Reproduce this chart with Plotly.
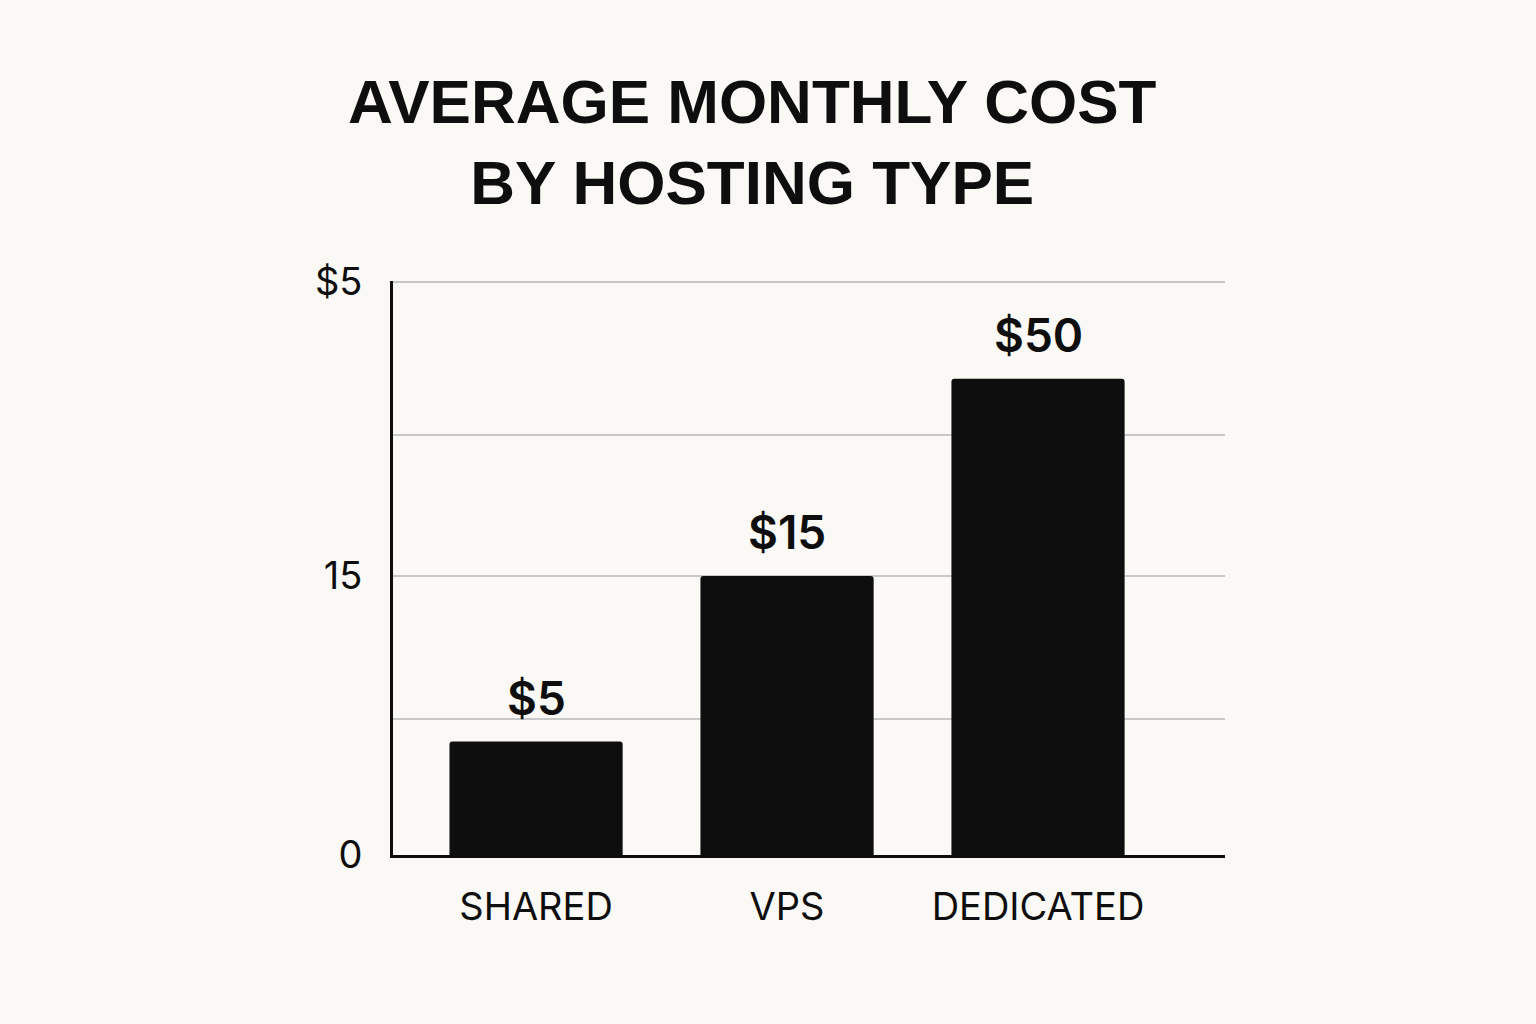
import plotly.graph_objects as go

# Data (bar heights in the chart's own drawn axis units,
# where the gridline labelled "15" sits at 15)
categories = ["SHARED", "VPS", "DEDICATED"]
bar_heights = [6.1, 15.0, 25.6]
bar_labels = ["$5", "$15", "$50"]
tick_vals = [0, 7.3, 15, 22.6, 30.8]
tick_text = ["0", "", "15", "", "$5"]
y_max = 30.86

BG = "#faf9f5"
INK = "#0e0e0e"

fig = go.Figure()
fig.add_trace(go.Bar(
    x=categories,
    y=bar_heights,
    marker=dict(color=INK, line=dict(width=0), cornerradius=3),
    width=0.69,
    hoverinfo="skip",
))

for c, h, lab in zip(categories, bar_heights, bar_labels):
    fig.add_annotation(
        x=c, y=h, text=lab, showarrow=False,
        xanchor="center", yanchor="bottom", yshift=14,
        font=dict(family="Inter, Liberation Sans, Arial", size=46, color=INK, weight=600),
    )

fig.add_annotation(
    xref="paper", yref="paper", x=0.4315, y=1.243,
    xanchor="center", yanchor="middle", showarrow=False,
    text="AVERAGE MONTHLY COST<br>BY HOSTING TYPE",
    font=dict(family="Liberation Sans, Arial", size=62, color=INK, weight="bold"),
)

fig.update_layout(
    width=1536, height=1024,
    paper_bgcolor=BG, plot_bgcolor=BG,
    margin=dict(l=393, r=311, t=281, b=169),
    showlegend=False,
    xaxis=dict(
        range=[-0.57, 2.745],
        showline=True, linecolor=INK, linewidth=3,
        showgrid=False, ticks="", zeroline=False,
        ticklabelstandoff=16,
        tickfont=dict(family="Inter, Liberation Sans, Arial", size=38, color=INK),
    ),
    yaxis=dict(
        range=[0, y_max],
        tickvals=tick_vals, ticktext=tick_text,
        showline=True, linecolor=INK, linewidth=3,
        showgrid=True, gridcolor="#c8c8c8", gridwidth=2,
        zeroline=False, ticks="",
        ticklabelstandoff=20,
        tickfont=dict(family="Inter, Liberation Sans, Arial", size=38, color=INK),
    ),
)

fig.write_html(
    "out.html",
    config={"displayModeBar": False},
    post_script="document.body.style.margin='0';document.body.style.overflow='hidden';",
)
